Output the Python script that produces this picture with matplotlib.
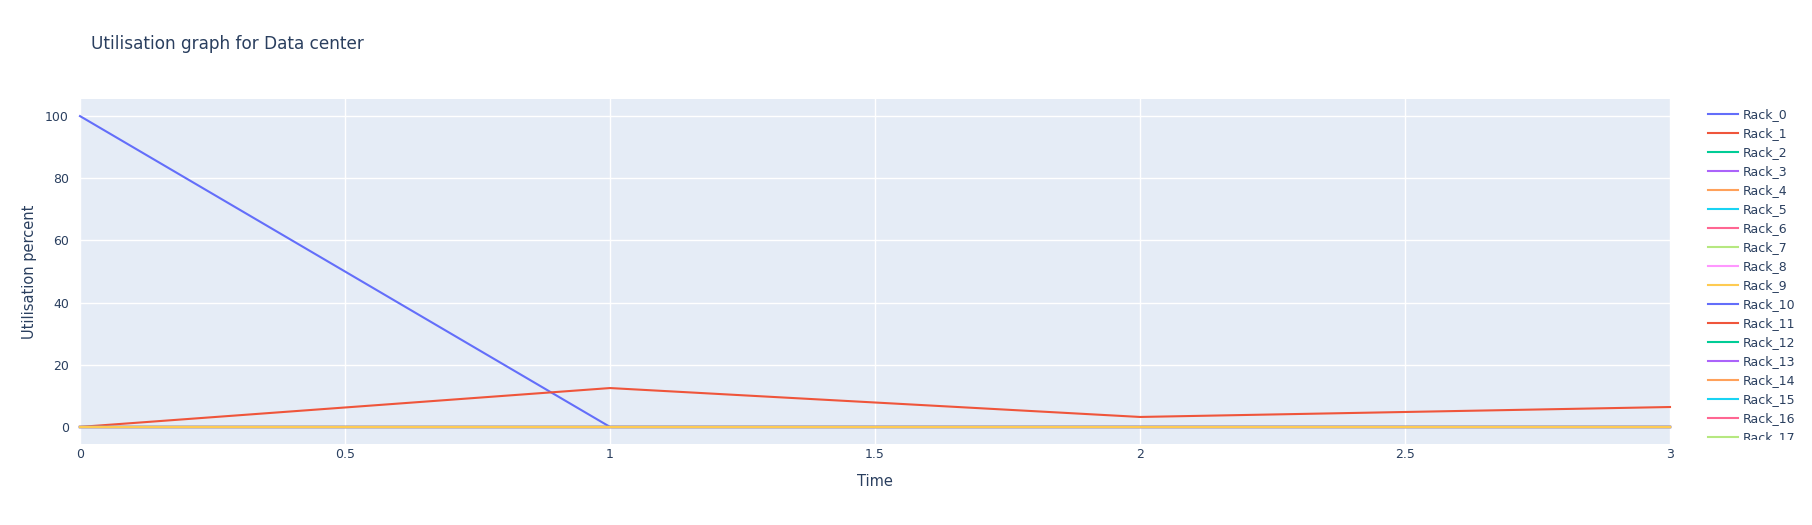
import matplotlib.pyplot as plt
from matplotlib.lines import Line2D
from matplotlib.patches import Rectangle

# ---------------------------------------------------------------------------
# Data
# ---------------------------------------------------------------------------

time = [0, 1, 2, 3]
rack_names = [f"Rack_{i}" for i in range(20)]
rack_0 = [100, 0, 0, 0]
rack_1 = [0, 12.5, 3.2, 6.4]
idle = [0, 0, 0, 0]
series = [rack_0, rack_1] + [idle] * 18

palette = ["#636EFA", "#EF553B", "#00CC96", "#AB63FA", "#FFA15A",
           "#19D3F3", "#FF6692", "#B6E880", "#FF97FF", "#FECB52"]
text_col = "#2a3f5f"

W, H = 1812, 525
fig = plt.figure(figsize=(W / 100, H / 100), dpi=100)

# plot area in pixels (from top-left)
left, right, top, bottom = 80, 1670, 99, 444
ax = fig.add_axes([left / W, 1 - bottom / H, (right - left) / W, (bottom - top) / H])
ax.set_facecolor("#E5ECF6")
for s in ax.spines.values():
    s.set_visible(False)

for i, (name, vals) in enumerate(zip(rack_names, series)):
    ax.plot(time, vals, color=palette[i % len(palette)], lw=1.5,
            label=name, zorder=3, clip_on=False)

ax.set_xlim(0, 3)
ax.set_ylim(-5.5, 105.5)
ax.set_xticks([0, 0.5, 1, 1.5, 2, 2.5, 3])
ax.set_xticklabels(["0", "0.5", "1", "1.5", "2", "2.5", "3"])
ax.set_yticks([0, 20, 40, 60, 80, 100])
ax.grid(True, color="white", lw=1)
ax.set_axisbelow(True)
ax.tick_params(length=0, labelsize=9, labelcolor=text_col)
ax.tick_params(axis="x", pad=3)
ax.tick_params(axis="y", pad=8)
ax.set_xlabel("Time", fontsize=10.5, color=text_col, labelpad=9)
ax.set_ylabel("Utilisation percent", fontsize=10.5, color=text_col, labelpad=6)

fig.text(91 / W, 1 - 44 / H, "Utilisation graph for Data center",
         fontsize=12.2, color=text_col, va="center", ha="left")

# legend drawn by hand, clipped at the bottom like the scrolling legend
clip = Rectangle((1690 / W, 1 - 440 / H), 120 / W, 340 / H,
                 transform=fig.transFigure, visible=False)
fig.add_artist(clip)
for i, name in enumerate(rack_names):
    y = 1 - (114.3 + 19.0 * i) / H
    ln = Line2D([1708 / W, 1738 / W], [y, y], transform=fig.transFigure,
                color=palette[i % len(palette)], lw=1.5)
    ln.set_clip_path(clip)
    fig.add_artist(ln)
    t = fig.text(1743 / W, y, name, fontsize=9, color=text_col, va="center")
    t.set_clip_path(clip)

fig.savefig("out.png", dpi=100, facecolor="white")
